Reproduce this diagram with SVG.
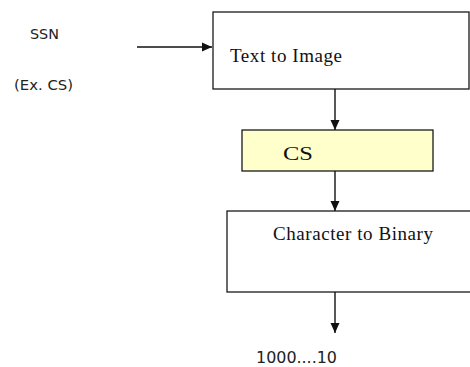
<svg xmlns="http://www.w3.org/2000/svg" width="470" height="367" viewBox="0 0 470 367">
  <style>
    .box { fill: #ffffff; stroke: #1a1a1a; stroke-width: 1.3; }
    .hl { fill: #ffffcc; }
    .serif { font-family: "Liberation Serif", "Times New Roman", serif; font-size: 19px; fill: #111; }
    .sans { font-family: "DejaVu Sans", Verdana, sans-serif; fill: #222; }
    .link { stroke: #111; stroke-width: 1.4; fill: none; marker-end: url(#head); }
  </style>
  <defs>
    <marker id="head" viewBox="0 0 10 10" refX="10" refY="5" markerWidth="10" markerHeight="10" markerUnits="userSpaceOnUse" orient="auto">
      <path d="M0,0.5 L10,5 L0,9.5 Z" fill="#111"/>
    </marker>
  </defs>
  <rect width="470" height="367" fill="#ffffff"/>

  <g id="input-label">
    <text class="sans" x="30" y="39" font-size="14" textLength="29" lengthAdjust="spacingAndGlyphs">SSN</text>
    <text class="sans" x="14" y="90" font-size="14" textLength="59" lengthAdjust="spacingAndGlyphs">(Ex. CS)</text>
  </g>

  <g id="text-to-image">
    <rect class="box" x="213" y="12" width="256" height="77"/>
    <text class="serif" x="230" y="62" textLength="112" lengthAdjust="spacing">Text to Image</text>
  </g>

  <g id="cs">
    <rect class="box hl" x="242" y="130" width="191" height="41"/>
    <text class="serif" x="283" y="160" font-size="21" textLength="30" lengthAdjust="spacingAndGlyphs">CS</text>
  </g>

  <g id="character-to-binary">
    <rect class="box" x="227" y="211" width="260" height="81"/>
    <text class="serif" x="273" y="240" textLength="160" lengthAdjust="spacing">Character to Binary</text>
  </g>

  <g id="output-label">
    <text class="sans" x="256" y="363" font-size="15" textLength="81" lengthAdjust="spacingAndGlyphs">1000....10</text>
  </g>

  <g id="connectors">
    <line class="link" x1="137" y1="47" x2="212" y2="47"/>
    <line class="link" x1="335" y1="89" x2="335" y2="130"/>
    <line class="link" x1="335" y1="171" x2="335" y2="211"/>
    <line class="link" x1="335" y1="292" x2="335" y2="333"/>
  </g>
</svg>
